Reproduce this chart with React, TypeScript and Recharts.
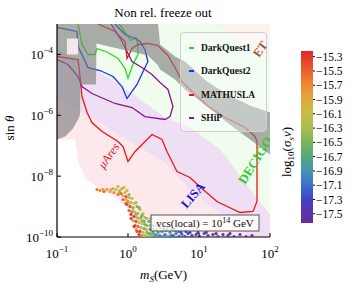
import React from 'react';
import {
  ComposedChart,
  BarChart,
  Bar,
  Line,
  Area,
  Scatter,
  XAxis,
  YAxis,
  Legend,
} from 'recharts';

const SERIF = '"Liberation Serif", "DejaVu Serif", serif';

// detector reach, m_S [GeV] vs sin(theta)
const darkQuest1M = [0.198, 0.211, 0.225, 0.274, 0.343, 0.366, 0.523, 0.723, 0.908, 1.0, 1.17, 1.38, 1.38, 1.3, 1.1, 0.968, 0.823, 0.746];
const darkQuest1S = [1e-3, 4.52e-4, 2.12e-4, 9.96e-5, 9.96e-5, 1.57e-4, 1.16e-4, 7.35e-5, 3.45e-5, 1.62e-5, 4.67e-5, 9.96e-5, 2.12e-4, 3.6e-4, 2.87e-4, 4.19e-4, 7.67e-4, 1e-3];

const darkQuest2M = [0.1, 0.191, 0.198, 0.274, 0.404, 0.615, 0.823, 0.968, 1.34, 1.63, 1.91, 1.73, 1.48, 1.26, 0.908, 0.656];
const darkQuest2S = [7.7e-4, 5.7e-4, 1.82e-4, 3.7e-5, 2.96e-5, 1.88e-5, 8.8e-6, 3.56e-6, 1.03e-5, 2.75e-5, 5.86e-5, 1.45e-4, 2.66e-4, 3.34e-4, 4.52e-4, 1e-3];

const mathuslaM = [0.1, 0.198, 0.211, 0.225, 0.265, 0.311, 0.431, 0.723, 0.851, 1.0, 1.26, 2.18, 3.01, 3.54, 4.9, 7.46, 11.4, 17.9, 37.8, 57.7, 65.6, 65.6, 61.5, 44.5, 23.2, 13.0, 7.96, 5.77, 4.59, 3.66, 2.65, 1.91, 1.38, 1.14, 0.968, 0.908, 0.656, 0.377];
const mathuslaS = [8.55e-5, 6.8e-5, 1.88e-5, 4.14e-6, 1.24e-6, 5.8e-7, 2.93e-7, 1.38e-7, 9.4e-8, 3.03e-8, 6.46e-8, 2.34e-7, 1.6e-7, 6.46e-8, 1.42e-8, 9.0e-9, 3.64e-9, 1.47e-9, 6.4e-10, 6.9e-10, 1.47e-9, 1.38e-7, 2.01e-7, 3.97e-7, 8.45e-7, 2.1e-6, 6.05e-6, 1.29e-5, 3.71e-5, 9.23e-5, 1.96e-4, 2.29e-4, 2.12e-4, 1.57e-4, 7.35e-5, 2.66e-4, 5.68e-4, 1e-3];

const shipM = [0.1, 0.143, 0.198, 0.225, 0.311, 0.656, 1.14, 1.73, 3.32, 3.91, 4.3, 3.66, 2.83, 2.18, 1.57, 1.14, 0.823, 0.577];
const shipS = [6.8e-5, 4.67e-5, 1.88e-5, 8.83e-6, 5.2e-6, 2.44e-6, 1.8e-6, 9.1e-7, 7.27e-7, 9.1e-7, 1.95e-6, 7.05e-6, 1.2e-5, 2.19e-5, 3.7e-5, 5.86e-5, 2.66e-4, 1e-3];

// shaded regions, lower / upper edge of sin(theta) per mass
const muAresM = [0.1, 0.1795, 0.191, 0.198, 0.248, 0.377, 0.656, 0.968, 1.14, 1.57, 100];
const muAresLo = [1.6e-7, 1.6e-7, 7.52e-8, 3.03e-8, 9.0e-9, 4.24e-9, 1.99e-9, 9.3e-10, 3.24e-10, 1e-10, 1e-10];
const muAresHi = [1e-3, 1e-3, 1e-3, 1e-3, 1e-3, 1e-3, 1e-3, 1e-3, 1e-3, 1e-3, 1e-3];

const decigoM = [0.1, 0.248, 0.377, 0.656, 3.32, 7.46, 16.8, 19.8, 52.2, 100];
const decigoLo = [1.45e-4, 4.67e-5, 2.75e-5, 1.29e-5, 8.45e-7, 3.97e-7, 1.02e-7, 7.52e-8, 3.64e-9, 5.5e-10];
const decigoHi = [1e-3, 1e-3, 1e-3, 1e-3, 1e-3, 1e-3, 1e-3, 8.28e-4, 1.69e-4, 5.86e-5];

const etM = [16.8, 19.8, 52.2, 100];
const etLo = [1e-3, 8.28e-4, 1.69e-4, 5.86e-5];
const etHi = [1e-3, 1e-3, 1e-3, 1e-3];

const lisaM = [0.1, 0.248, 0.377, 0.656, 3.32, 7.46, 19.8, 27.3, 52.2, 100];
const lisaLo = [3.85e-6, 1.06e-6, 6.25e-7, 2.72e-7, 2.81e-8, 3.64e-9, 5.93e-10, 3.24e-10, 1e-10, 1e-10];
const lisaHi = [1.45e-4, 4.67e-5, 2.75e-5, 1.29e-5, 8.45e-7, 3.97e-7, 7.52e-8, 2.81e-8, 3.64e-9, 5.5e-10];

const excludedM = [0.1, 0.13, 0.168, 0.198, 0.211, 0.214, 0.354, 0.36, 0.823, 1.91, 2.65, 2.83, 4.59, 6.35, 13.0, 24.8, 52.2, 100];
const excludedLo = [1.6e-7, 2.01e-7, 3.68e-7, 7.27e-7, 1.06e-6, 1.03e-5, 1.03e-5, 2.29e-4, 1.45e-4, 9.23e-5, 4.33e-5, 3.2e-5, 1.5e-5, 7.05e-6, 1.95e-6, 5.8e-7, 1.6e-7, 5.14e-8];
const excludedHi = [1e-3, 1e-3, 1e-3, 1e-3, 1e-3, 1e-3, 1e-3, 1e-3, 1e-3, 1e-3, 1e-3, 2.12e-4, 8.55e-5, 5.86e-5, 1.29e-5, 4.82e-6, 2.1e-6, 1.24e-6];

const gapM = [0.138, 0.198];
const gapLo = [9.95e-5, 9.95e-5];
const gapHi = [3.33e-4, 3.33e-4];

// relic points: [m_S, sin(theta), log10(sigma v)]
const relicPoints: [number, number, number][] = [
  [0.366, 3.64e-9, -15.6], [0.404, 3.38e-9, -15.7], [0.459, 3.13e-9, -15.5], [0.506, 3.64e-9, -15.8],
  [0.558, 3.13e-9, -16.0], [0.615, 3.93e-9, -15.9], [0.678, 3.64e-9, -16.1], [0.723, 4.57e-9, -16.0],
  [0.771, 3.38e-9, -16.2], [0.823, 3.93e-9, -15.9], [0.879, 4.24e-9, -16.1], [0.796, 2.69e-9, -15.5],
  [0.908, 2.9e-9, -16.2], [0.968, 3.38e-9, -16.0], [0.938, 2.14e-9, -15.4], [1.033, 1.99e-9, -16.3],
  [1.0, 1.47e-9, -15.6], [1.102, 1.36e-9, -16.2], [1.067, 1.01e-9, -15.4], [1.175, 9.3e-10, -16.4],
  [1.138, 6.9e-10, -15.5], [1.255, 6.4e-10, -16.1], [1.215, 4.72e-10, -15.3], [1.339, 4.38e-10, -16.3],
  [1.297, 3.24e-10, -15.4], [1.429, 3.0e-10, -16.0], [1.383, 2.21e-10, -15.5], [1.524, 2.05e-10, -16.3],
  [1.476, 1.52e-10, -15.3], [1.626, 1.41e-10, -16.1], [1.575, 1.12e-10, -15.6], [1.735, 1.12e-10, -16.4],
  [1.383, 5.93e-10, -15.8], [1.524, 4.38e-10, -16.5], [1.68, 3.24e-10, -16.6], [1.852, 2.39e-10, -16.4],
  [2.04, 1.77e-10, -16.7], [1.913, 1.3e-10, -16.2], [2.18, 1.12e-10, -16.5], [1.793, 1.77e-10, -16.0],
  [1.476, 8.0e-10, -16.2], [1.626, 5.93e-10, -16.0], [1.215, 1.26e-9, -16.1], [1.339, 1.01e-9, -16.4],
  [1.735, 4.38e-10, -16.3], [1.976, 3.24e-10, -16.6], [2.25, 2.39e-10, -16.8], [2.48, 1.77e-10, -16.6],
  [2.4, 1.21e-10, -16.9], [2.65, 1.41e-10, -16.7], [2.11, 4.06e-10, -16.5], [2.82, 1.12e-10, -17.0],
  [3.01, 1.52e-10, -16.8], [3.32, 1.21e-10, -17.1], [3.66, 1.04e-10, -16.9], [3.91, 1.41e-10, -16.7],
  [4.31, 1.12e-10, -17.2], [4.74, 1.3e-10, -17.0], [5.23, 1.04e-10, -17.3], [5.77, 1.21e-10, -17.1],
  [6.35, 1.04e-10, -17.4], [7.0, 1.3e-10, -17.2], [7.96, 1.12e-10, -17.5], [9.08, 1.21e-10, -17.3],
  [10.3, 1.04e-10, -17.4], [11.8, 1.3e-10, -17.2], [13.4, 1.12e-10, -17.5], [15.7, 1.21e-10, -17.3],
  [18.5, 1.04e-10, -17.6], [21.8, 1.21e-10, -17.4], [25.6, 1.12e-10, -17.5], [31.1, 1.04e-10, -17.6],
  [37.8, 1.21e-10, -17.5], [45.9, 1.04e-10, -17.6], [0.851, 1.71e-9, -15.5], [1.102, 5.5e-10, -15.3],
  [1.255, 2.39e-10, -15.4], [1.429, 1.21e-10, -15.3], [0.968, 1.17e-9, -15.4], [1.852, 4.06e-10, -16.2],
  [2.04, 2.39e-10, -16.3], [2.25, 1.77e-10, -16.6], [2.56, 2.39e-10, -16.7], [2.82, 2.05e-10, -16.8],
  [3.21, 1.77e-10, -16.9], [3.54, 1.9e-10, -16.8], [4.17, 1.77e-10, -17.0], [5.06, 1.52e-10, -17.1],
  [6.56, 1.52e-10, -17.3], [1.175, 3.49e-10, -15.8], [1.297, 1.77e-10, -15.9], [1.575, 2.78e-10, -16.1],
  [1.68, 1.9e-10, -16.5], [0.746, 2.9e-9, -16.3], [0.851, 2.31e-9, -16.1], [1.033, 2.49e-9, -16.4],
  [1.138, 1.84e-9, -16.0], [1.297, 1.36e-9, -16.3], [1.429, 9.3e-10, -16.5], [1.575, 5.09e-10, -16.6],
  [0.938, 1.71e-9, -16.0], [1.033, 1.36e-9, -16.1], [1.175, 7.43e-10, -16.2], [1.297, 5.5e-10, -16.4],
  [1.429, 4.06e-10, -16.2], [1.575, 3.49e-10, -16.4], [1.735, 2.58e-10, -16.5], [1.852, 1.41e-10, -16.5],
  [2.04, 1.3e-10, -16.6], [2.25, 1.41e-10, -16.7], [1.68, 1.04e-10, -16.2], [1.976, 1.04e-10, -16.4],
  [1.339, 1.52e-10, -15.4], [1.215, 2.21e-10, -15.3], [1.102, 4.06e-10, -15.4], [1.033, 7.43e-10, -15.5],
  [0.938, 1.26e-9, -15.4], [0.723, 2.49e-9, -15.6], [0.635, 2.9e-9, -15.7], [0.577, 3.64e-9, -15.9],
  [0.445, 3.64e-9, -15.8], [2.56, 1.12e-10, -16.8], [3.11, 1.04e-10, -16.9], [3.43, 1.64e-10, -16.8],
  [4.03, 1.12e-10, -17.1], [4.59, 1.64e-10, -17.0], [5.57, 1.41e-10, -17.2], [7.46, 1.41e-10, -17.3],
  [9.68, 1.41e-10, -17.4], [12.6, 1.41e-10, -17.4], [17.4, 1.3e-10, -17.5], [27.3, 1.3e-10, -17.5],
  [55.7, 1.12e-10, -17.6],
];

const xTicks = [0.1, 1, 10, 100];
const yTicks = [1e-10, 1e-8, 1e-6, 1e-4];
const cbTicks = [-15.3, -15.5, -15.7, -15.9, -16.1, -16.3, -16.5, -16.7, -16.9, -17.1, -17.3, -17.5];
const CB_MIN = -17.63;
const CB_MAX = -15.22;

const cmapStops: [number, string][] = [
  [-15.22, '#e3262b'],
  [-15.45, '#e8552d'],
  [-15.7, '#ee8a32'],
  [-15.9, '#e0aa3c'],
  [-16.1, '#c9bb48'],
  [-16.3, '#a6be4e'],
  [-16.5, '#78b45c'],
  [-16.7, '#55a87c'],
  [-16.9, '#4595b4'],
  [-17.1, '#3d6fcc'],
  [-17.3, '#3f43c2'],
  [-17.5, '#5a33a8'],
  [-17.63, '#6c2b9c'],
];

const hexToRgb = (h: string) => [1, 3, 5].map((i) => parseInt(h.slice(i, i + 2), 16));

function colorFor(v: number) {
  for (let i = 0; i < cmapStops.length - 1; i++) {
    const [v0, c0] = cmapStops[i];
    const [v1, c1] = cmapStops[i + 1];
    if (v <= v0 && v >= v1) {
      const t = (v0 - v) / (v0 - v1);
      const a = hexToRgb(c0);
      const b = hexToRgb(c1);
      const rgb = a.map((x, k) => Math.round(x + (b[k] - x) * t));
      return `rgb(${rgb.join(',')})`;
    }
  }
  return v > CB_MAX ? cmapStops[0][1] : cmapStops[cmapStops.length - 1][1];
}

const toXY = (m: number[], s: number[]) => m.map((v, i) => ({ m: v, s: s[i] }));
const toBand = (m: number[], lo: number[], hi: number[]) => m.map((v, i) => ({ m: v, band: [lo[i], hi[i]] }));

const relicData = relicPoints.map(([m, s, c]) => ({ m, s, c }));
const colorbarData = [{ k: 'cb', range: [CB_MIN, CB_MAX] }];
const legendNames = ['DarkQuest1', 'DarkQuest2', 'MATHUSLA', 'SHiP'];

const fmtExp = (e: number) => (e < 0 ? '\u2212' + Math.abs(e) : String(e));

const XTick = (props: any) => {
  const { x, y, payload } = props;
  const e = Math.round(Math.log10(payload.value));
  return (
    <g>
      <line x1={x} x2={x} y1={y} y2={y - 4} stroke="#000" strokeWidth={1} />
      <text x={x} y={y + 21} textAnchor="middle" fontFamily={SERIF} fontSize={13} fill="#000">
        10<tspan dy={-6} fontSize={9}>{fmtExp(e)}</tspan>
      </text>
    </g>
  );
};

const YTick = (props: any) => {
  const { x, y, payload } = props;
  const e = Math.round(Math.log10(payload.value));
  return (
    <g>
      <line x1={x} x2={x + 4} y1={y} y2={y} stroke="#000" strokeWidth={1} />
      <text x={x - 4} y={y + 5} textAnchor="end" fontFamily={SERIF} fontSize={13} fill="#000">
        10<tspan dy={-6} fontSize={9}>{fmtExp(e)}</tspan>
      </text>
    </g>
  );
};

const LegendBox = ({ payload }: any) => {
  const items = (payload || []).filter((p: any) => legendNames.includes(p.value));
  return (
    <div
      style={{
        position: 'relative',
        width: 87,
        height: 100,
        boxSizing: 'border-box',
        border: '1px solid #cfcfcf',
        borderRadius: 4,
        background: 'rgba(255,255,255,0.35)',
      }}
    >
      {items.map((p: any, i: number) => (
        <div
          key={p.value}
          style={{ position: 'absolute', left: 0, top: 9 + i * 23.3, height: 12, display: 'flex', alignItems: 'center' }}
        >
          <span style={{ display: 'inline-block', marginLeft: 8, width: 5, height: 2, background: p.color }} />
          <span style={{ marginLeft: 7, fontFamily: SERIF, fontWeight: 'bold', fontSize: 9.5, color: '#111' }}>{p.value}</span>
        </div>
      ))}
    </div>
  );
};

const RelicDot = (props: any) => {
  const { cx, cy, payload } = props;
  return <circle cx={cx} cy={cy} r={1.6} fill={colorFor(payload.c)} />;
};

const bandProps = {
  type: 'linear' as const,
  dataKey: 'band',
  stroke: 'none',
  fillOpacity: 1,
  isAnimationActive: false,
  legendType: 'none' as const,
  activeDot: false,
};

export default function App() {
  return (
    <div style={{ position: 'absolute', left: 0, top: 0, width: 353, height: 287, background: '#fff' }}>
      <ComposedChart width={353} height={287} margin={{ top: 24, right: 83, bottom: 0, left: 0 }}>
        <XAxis
          dataKey="m"
          type="number"
          scale="log"
          domain={[0.1, 100]}
          allowDataOverflow
          ticks={xTicks}
          interval={0}
          tick={<XTick />}
          tickLine={false}
          tickSize={0}
          tickMargin={0}
          height={50}
          axisLine={{ stroke: '#000', strokeWidth: 1.2 }}
        />
        <XAxis
          xAxisId="top"
          orientation="top"
          type="number"
          scale="log"
          domain={[0.1, 100]}
          allowDataOverflow
          tick={false}
          tickLine={false}
          height={0}
          axisLine={{ stroke: '#000', strokeWidth: 1.2 }}
        />
        <YAxis
          type="number"
          scale="log"
          domain={[1e-10, 1e-3]}
          allowDataOverflow
          ticks={yTicks}
          interval={0}
          tick={<YTick />}
          tickLine={false}
          tickSize={0}
          tickMargin={0}
          width={57}
          axisLine={{ stroke: '#000', strokeWidth: 1.2 }}
        />
        <YAxis
          yAxisId="right"
          orientation="right"
          type="number"
          scale="log"
          domain={[1e-10, 1e-3]}
          allowDataOverflow
          tick={false}
          tickLine={false}
          width={0}
          axisLine={{ stroke: '#000', strokeWidth: 1.2 }}
        />

        <Area {...bandProps} name="muAres" data={toBand(muAresM, muAresLo, muAresHi)} fill="#fde8ec" />
        <Area {...bandProps} name="DECIGO" data={toBand(decigoM, decigoLo, decigoHi)} fill="#effcee" />
        <Area {...bandProps} name="ET" data={toBand(etM, etLo, etHi)} fill="#fbf2ef" />
        <Area {...bandProps} name="LISA" data={toBand(lisaM, lisaLo, lisaHi)} fill="#efdff4" />

        <Line data={toXY(darkQuest1M, darkQuest1S)} dataKey="s" name="DarkQuest1" type="linear" stroke="#22dd22" strokeWidth={1.3} dot={false} isAnimationActive={false} />
        <Line data={toXY(darkQuest2M, darkQuest2S)} dataKey="s" name="DarkQuest2" type="linear" stroke="#1f2fe8" strokeWidth={1.3} dot={false} isAnimationActive={false} />
        <Line data={toXY(mathuslaM, mathuslaS)} dataKey="s" name="MATHUSLA" type="linear" stroke="#ee1515" strokeWidth={1.3} dot={false} isAnimationActive={false} />
        <Line data={toXY(shipM, shipS)} dataKey="s" name="SHiP" type="linear" stroke="#8b168b" strokeWidth={1.3} dot={false} isAnimationActive={false} />

        <Area {...bandProps} name="excluded" data={toBand(excludedM, excludedLo, excludedHi)} fill="#7a7a7a" fillOpacity={0.62} zIndex={450} />
        <Area {...bandProps} name="gap" data={toBand(gapM, gapLo, gapHi)} fill="#f3e9ec" zIndex={460} />

        <Scatter name="relic" data={relicData} dataKey="s" shape={RelicDot} isAnimationActive={false} legendType="none" />

        <Legend
          layout="vertical"
          align="center"
          verticalAlign="middle"
          content={<LegendBox />}
          wrapperStyle={{ left: 180, top: 32, width: 87, height: 100 }}
        />
      </ComposedChart>

      <div style={{ position: 'absolute', left: 301, top: 0 }}>
        <BarChart width={52} height={287} data={colorbarData} margin={{ top: 51, right: 0, bottom: 64, left: 0 }} barCategoryGap={0}>
          <defs>
            <linearGradient id="cbar" x1="0" y1="0" x2="0" y2="1">
              {cmapStops.map(([v, c]) => (
                <stop key={v} offset={(CB_MAX - v) / (CB_MAX - CB_MIN)} stopColor={c} />
              ))}
            </linearGradient>
          </defs>
          <XAxis dataKey="k" hide />
          <YAxis
            orientation="right"
            type="number"
            domain={[CB_MIN, CB_MAX]}
            allowDataOverflow
            ticks={cbTicks}
            interval={0}
            width={40}
            axisLine={false}
            tickLine={{ stroke: '#000' }}
            tickSize={2}
            tickMargin={1}
            tickFormatter={(v: number) => v.toFixed(1).replace('-', '\u2212')}
            tick={{ fontFamily: SERIF, fontSize: 11.5, fill: '#000' }}
          />
          <Bar dataKey="range" fill="url(#cbar)" isAnimationActive={false} />
        </BarChart>
      </div>

      <svg width={353} height={287} style={{ position: 'absolute', left: 0, top: 0, pointerEvents: 'none' }}>
        <defs>
          <clipPath id="plotClip">
            <rect x={57} y={24} width={213} height={213} />
          </clipPath>
        </defs>
        <text x={163} y={17} textAnchor="middle" fontFamily={SERIF} fontSize={13}>Non rel. freeze out</text>
        <g transform="rotate(-90 14 128)">
          <text x={14} y={128} textAnchor="middle" fontFamily={SERIF} fontSize={13}>
            sin <tspan fontStyle="italic">θ</tspan>
          </text>
        </g>
        <text x={140} y={279} fontFamily={SERIF} fontSize={13}>
          <tspan fontStyle="italic">m</tspan>
          <tspan fontStyle="italic" fontSize={9} dy={3}>S</tspan>
          <tspan dy={-3}>(GeV)</tspan>
        </text>
        <g transform="rotate(-90 291 143)">
          <text x={257} y={143} fontFamily={SERIF} fontSize={13}>
            log<tspan fontSize={9} dy={3}>10</tspan>
            <tspan dy={-3}>(</tspan>
            <tspan fontStyle="italic">σ</tspan>
            <tspan fontStyle="italic" fontSize={9} dy={3}>s</tspan>
            <tspan fontStyle="italic" dy={-3}>v</tspan>
            <tspan>)</tspan>
          </text>
        </g>

        <g clipPath="url(#plotClip)">
          <text x={112} y={158} textAnchor="middle" fontFamily={SERIF} fontStyle="italic" fontSize={12} fill="#e0201c" transform="rotate(-55 112 158)">
            μAres
          </text>
          <text x={196} y={198} textAnchor="middle" fontFamily={SERIF} fontWeight="bold" fontSize={12.5} fill="#1a1acc" transform="rotate(-49 196 198)">
            LISA
          </text>
          <text x={245} y={185} fontFamily={SERIF} fontWeight="bold" fontSize={13} fill="#2ccc2c" transform="rotate(-58 245 185)">
            DECIGO
          </text>
          <text x={259} y={58} fontFamily={SERIF} fontWeight="bold" fontSize={12} fill="#a0522d" transform="rotate(-55 259 58)">
            ET
          </text>
          <rect x={151} y={215} width={108} height={16} fill="#fff" fillOpacity={0.75} stroke="#555" strokeWidth={1} />
          <text x={205} y={227} textAnchor="middle" fontFamily={SERIF} fontSize={11} fill="#111">
            vcs(local) = 10<tspan dy={-4} fontSize={8}>14</tspan>
            <tspan dy={4}> GeV</tspan>
          </text>
        </g>
      </svg>
    </div>
  );
}
